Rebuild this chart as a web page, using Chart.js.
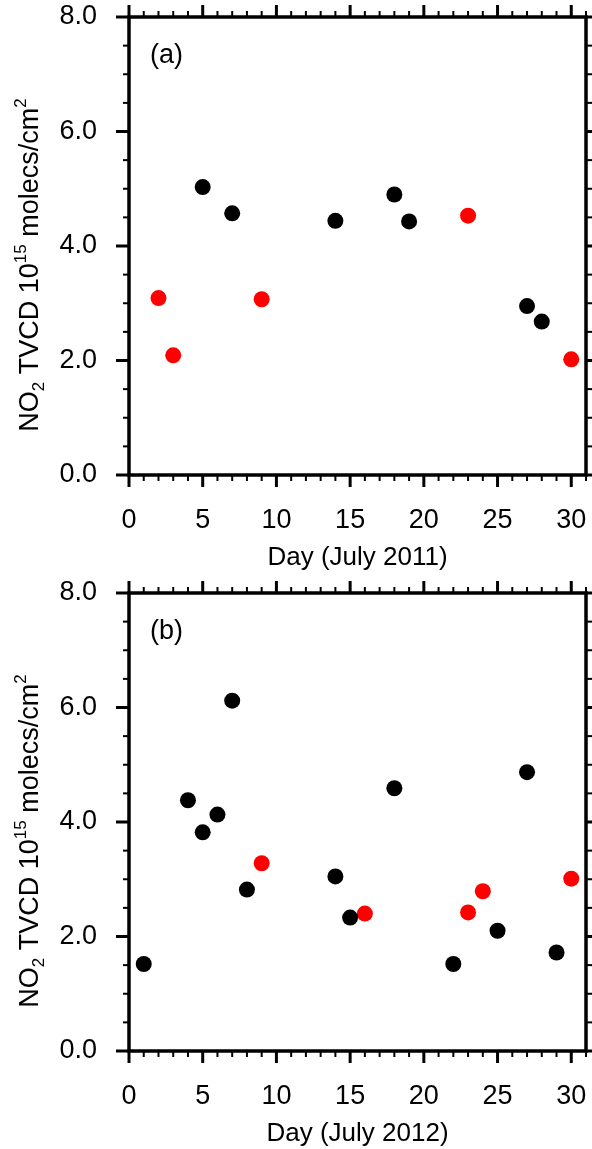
<!DOCTYPE html>
<html>
<head>
<meta charset="utf-8">
<script src="https://cdn.jsdelivr.net/npm/chart.js@4.4.1/dist/chart.umd.min.js"></script>
<style>
    body { margin: 0; background: #fff; overflow: hidden; }
    canvas { display: block; }
</style>
</head>
<body>
<canvas id="panelA" width="592" height="576"></canvas>
<canvas id="panelB" width="592" height="573"></canvas>
<script>
// --- Data (day of month, NO2 TVCD in 1e15 molecs/cm2) ---
const days2011Black = [5, 7, 14, 18, 19, 27, 28];
const no2_2011Black = [5.03, 4.57, 4.44, 4.90, 4.43, 2.95, 2.68];
const days2011Red = [2, 3, 9, 23, 30];
const no2_2011Red = [3.09, 2.09, 3.07, 4.53, 2.02];

const days2012Black = [1, 4, 5, 6, 7, 8, 14, 15, 18, 22, 25, 27, 29];
const no2_2012Black = [1.52, 4.38, 3.82, 4.13, 6.12, 2.82, 3.05, 2.33, 4.59, 1.52, 2.10, 4.87, 1.72];
const days2012Red = [9, 16, 23, 24, 30];
const no2_2012Red = [3.28, 2.40, 2.42, 2.79, 3.01];

const xTickValues = [0, 5, 10, 15, 20, 25, 30];
const yTickValues = [0, 2, 4, 6, 8];
const xMinorStep = 1;
const yMinorStep = 0.5;

const FONT = "'Liberation Sans', Arial, Helvetica, sans-serif";

function toPoints(xs, ys) {
    return xs.map((d, i) => ({ x: d, y: ys[i] }));
}

// no label overflow padding: the plot box stays where the layout puts it
function noPad(s) {
    s.paddingTop = 0;
    s.paddingBottom = 0;
    s.paddingLeft = 0;
    s.paddingRight = 0;
}

// --- Frame, outward ticks and the NCL-style text ---
const frameTicks = {
    id: "frameTicks",
    afterDraw(chart, args, opts) {
        const { ctx, chartArea: a, scales: { x, y } } = chart;
        ctx.save();
        ctx.strokeStyle = "#000";
        ctx.lineCap = "butt";

        const seg = (x1, y1, x2, y2) => {
            ctx.beginPath();
            ctx.moveTo(x1, y1);
            ctx.lineTo(x2, y2);
            ctx.stroke();
        };

        // x ticks: bottom (down) and top (up)
        for (let d = x.min; d <= x.max + 1e-6; d += xMinorStep) {
            const px = x.getPixelForValue(d);
            const major = xTickValues.includes(d);
            const len = major ? 12 : 6;
            ctx.lineWidth = major ? 3 : 2;
            seg(px, a.bottom, px, a.bottom + len);
            seg(px, a.top, px, a.top - len);
        }
        // y ticks: left and right, both outward
        for (let v = y.min; v <= y.max + 1e-6; v += yMinorStep) {
            const py = y.getPixelForValue(v);
            const major = yTickValues.includes(v);
            const len = major ? 13 : 6;
            ctx.lineWidth = major ? 3 : 2;
            seg(a.left, py, a.left - len, py);
            seg(a.right, py, a.right + len, py);
        }

        ctx.lineWidth = 3.5;
        ctx.strokeRect(a.left, a.top, a.right - a.left, a.bottom - a.top);

        ctx.fillStyle = "#000";

        // panel letter
        ctx.font = `27px ${FONT}`;
        ctx.textAlign = "left";
        ctx.textBaseline = "middle";
        ctx.fillText(opts.tag, a.left + 21, a.top + 39);

        // x title
        ctx.font = `26px ${FONT}`;
        ctx.textAlign = "center";
        ctx.textBaseline = "alphabetic";
        ctx.fillText(opts.xTitle, (a.left + a.right) / 2, a.bottom + 90);

        // y title with sub/superscripts, rotated
        const parts = [
            { t: "NO", s: 27, dy: 0 },
            { t: "2", s: 17, dy: 6 },
            { t: " TVCD 10", s: 27, dy: 0 },
            { t: "15", s: 17, dy: -12 },
            { t: " molecs/cm", s: 27, dy: 0 },
            { t: "2", s: 17, dy: -12 }
        ];
        let total = 0;
        parts.forEach(p => {
            ctx.font = `${p.s}px ${FONT}`;
            p.w = ctx.measureText(p.t).width;
            total += p.w;
        });
        ctx.translate(38, (a.top + a.bottom) / 2 + 19);
        ctx.rotate(-Math.PI / 2);
        ctx.textAlign = "left";
        let cx = -total / 2;
        parts.forEach(p => {
            ctx.font = `${p.s}px ${FONT}`;
            ctx.fillText(p.t, cx, p.dy);
            cx += p.w;
        });
        ctx.restore();
    }
};

function makePanel(canvasId, tag, xTitle, blackPts, redPts, xAxisHeight) {
    const ctx = document.getElementById(canvasId).getContext("2d");
    return new Chart(ctx, {
        type: "scatter",
        data: {
            datasets: [
                { label: "black", data: blackPts, backgroundColor: "#000", borderWidth: 0, pointRadius: 8, pointHoverRadius: 8 },
                { label: "red", data: redPts, backgroundColor: "#f00", borderWidth: 0, pointRadius: 8, pointHoverRadius: 8 }
            ]
        },
        options: {
            responsive: false,
            animation: false,
            layout: { autoPadding: false, padding: { top: 17, right: 6, left: 0, bottom: 0 } },
            plugins: {
                legend: { display: false },
                tooltip: { enabled: false },
                frameTicks: { tag, xTitle }
            },
            scales: {
                x: {
                    type: "linear",
                    min: 0,
                    max: 31,
                    border: { display: false },
                    grid: { display: false, drawTicks: false },
                    afterBuildTicks: s => { s.ticks = xTickValues.map(v => ({ value: v })); },
                    afterFit: s => { s.height = xAxisHeight; noPad(s); },
                    ticks: {
                        padding: 29,
                        maxRotation: 0,
                        autoSkip: false,
                        color: "#000",
                        font: { family: FONT, size: 27 },
                        callback: v => String(v)
                    }
                },
                y: {
                    type: "linear",
                    min: 0,
                    max: 8,
                    border: { display: false },
                    grid: { display: false, drawTicks: false },
                    afterBuildTicks: s => { s.ticks = yTickValues.map(v => ({ value: v })); },
                    afterFit: s => { s.width = 129; noPad(s); },
                    ticks: {
                        padding: 32,
                        color: "#000",
                        font: { family: FONT, size: 27 },
                        callback: v => Number(v).toFixed(1)
                    }
                }
            }
        },
        plugins: [frameTicks]
    });
}

makePanel("panelA", "(a)", "Day (July 2011)",
    toPoints(days2011Black, no2_2011Black), toPoints(days2011Red, no2_2011Red), 101);
makePanel("panelB", "(b)", "Day (July 2012)",
    toPoints(days2012Black, no2_2012Black), toPoints(days2012Red, no2_2012Red), 98);
</script>
</body>
</html>
